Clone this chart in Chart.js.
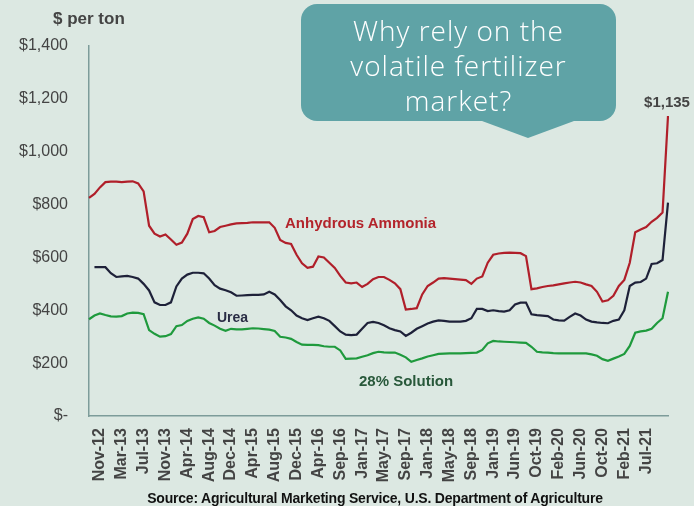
<!DOCTYPE html>
<html>
<head>
<meta charset="utf-8">
<script src="https://cdn.jsdelivr.net/npm/chart.js@4.4.0/dist/chart.umd.min.js"></script>
<style>
  body { margin: 0; background: #dce8e2; }
  #wrap { position: relative; width: 694px; height: 506px; background: #dce8e2; overflow: hidden; }
  canvas { position: absolute; left: 0; top: 0; }
  .txt { position: absolute; font-family: "Liberation Sans", Arial, sans-serif; font-weight: bold; white-space: nowrap; }
  #unit { left: 53px; top: 9px; font-size: 17px; color: #444; }
  #source { left: 0; width: 750px; text-align: center; top: 490px; font-size: 14px; color: #111; letter-spacing: -0.2px; }
  #lblNh3 { left: 285px; top: 214px; font-size: 15px; color: #b3242b; }
  #lblUrea { left: 217px; top: 309px; font-size: 14px; color: #2a2d45; }
  #lblSol { left: 359px; top: 372px; font-size: 15px; color: #28583a; }
  #bubble { position: absolute; left: 301px; top: 4px; width: 315px; height: 117px; background: #5fa3a6;
    border-radius: 16px; color: #fff; font-family: "Open Sans", sans-serif; font-weight: 300; font-size: 28px;
    letter-spacing: 1px; line-height: 35px; text-align: center; padding-top: 9px; box-sizing: border-box; }
  #bubble::after { content: ""; position: absolute; left: 181px; top: 117px; border-left: 46px solid transparent;
    border-right: 46px solid transparent; border-top: 17px solid #5fa3a6; }
</style>
</head>
<body>
<div id="wrap">
  <canvas id="myChart" width="694" height="506"></canvas>
  <div class="txt" id="unit">$ per ton</div>
  <div class="txt" id="lblNh3">Anhydrous Ammonia</div>
  <div class="txt" id="lblUrea">Urea</div>
  <div class="txt" id="lblSol">28% Solution</div>
  <div class="txt" id="source">Source:  Agricultural Marketing Service, U.S. Department of Agriculture</div>
  <div id="bubble">Why rely on the<br>volatile fertilizer<br>market?</div>
</div>
<script>
// tick labels, one every 4 points, starting at point 2
const tickLabels = ['Nov-12','Mar-13','Jul-13','Nov-13','Apr-14','Aug-14','Dec-14','Apr-15','Aug-15','Dec-15',
  'Apr-16','Sep-16','Jan-17','May-17','Sep-17','Jan-18','May-18','Sep-18','Jan-19','Jun-19',
  'Oct-19','Feb-20','Jun-20','Oct-20','Feb-21','Jul-21'];

const yTicks = [0, 200, 400, 600, 800, 1000, 1200, 1400];

const ammonia = [825,840,865,885,887,887,885,887,888,880,
  850,720,690,679,687,668,648,656,690,745,
  757,752,695,700,715,720,725,729,730,731,
  733,733,733,733,712,666,655,651,610,578,
  561,565,604,600,580,560,530,505,502,505,
  488,500,518,526,526,515,502,480,403,405,
  408,460,492,505,520,522,520,518,516,514,
  500,520,528,580,610,615,617,618,617,616,
  605,480,483,488,492,494,498,502,505,508,
  505,498,492,470,433,438,455,492,515,580,
  695,706,715,735,750,770,1135];

const urea = [null,563,563,563,540,526,528,530,526,520,
  500,475,430,420,420,430,490,520,535,542,
  542,540,520,495,482,476,468,455,456,457,
  458,458,460,470,460,439,415,400,380,370,
  363,370,376,370,360,340,320,308,306,308,
  330,352,356,352,343,332,325,320,303,315,
  330,340,350,357,362,360,357,357,357,360,
  370,405,405,397,400,397,395,400,422,429,
  429,385,382,380,378,365,362,361,375,388,
  380,365,357,354,352,351,360,365,400,492,
  505,507,520,575,578,590,807];

const solution28 = [366,380,388,382,377,376,378,388,391,390,
  385,325,311,300,302,310,340,344,360,368,
  373,368,352,342,330,322,330,328,328,330,
  332,331,329,327,322,300,297,292,280,270,
  269,269,268,264,262,262,248,216,217,218,
  224,230,238,243,241,240,240,232,222,205,
  212,218,225,230,235,236,237,237,237,238,
  239,240,250,275,284,282,281,280,279,278,
  277,262,243,241,240,238,237,237,237,237,
  237,237,233,228,215,209,217,225,235,265,
  315,320,323,330,352,370,470];

// one category per point; only every 4th carries a month name
const categories = ammonia.map((v, i) => (i >= 2 && (i - 2) % 4 === 0 && tickLabels[(i - 2) / 4]) ? tickLabels[(i - 2) / 4] : ' '.repeat(1 + i % 3));

const lastLabel = {
  id: 'lastLabel',
  afterDatasetsDraw(chart) {
    const ctx = chart.ctx;
    const i = ammonia.length - 1;
    const x = chart.scales.x.getPixelForValue(i);
    const y = chart.scales.y.getPixelForValue(ammonia[i]);
    ctx.save();
    ctx.font = 'bold 15px "Liberation Sans", Arial';
    ctx.fillStyle = '#444';
    ctx.textAlign = 'center';
    ctx.textBaseline = 'bottom';
    ctx.fillText('$' + ammonia[i].toLocaleString('en-US'), x - 1, y - 6);
    ctx.restore();
  }
};

Chart.defaults.font.family = '"Liberation Sans", Arial, sans-serif';

const ds = (data, color) => ({
  data: data,
  borderColor: color,
  borderWidth: 2.2,
  pointRadius: 0,
  tension: 0,
  fill: false
});

new Chart(document.getElementById('myChart'), {
  type: 'line',
  data: {
    labels: categories,
    datasets: [
      ds(ammonia, '#b01f2a'),
      ds(urea, '#1e2139'),
      ds(solution28, '#1f9a3d')
    ]
  },
  options: {
    responsive: false,
    animation: false,
    layout: { padding: { top: 46, right: 26, left: 0, bottom: 0 } },
    plugins: { legend: { display: false }, tooltip: { enabled: false } },
    scales: {
      x: {
        afterFit(s) { s.height = 90; s.paddingLeft = 0; s.paddingRight = 0; },
        grid: { display: false, drawTicks: false },
        border: { display: true, color: '#7d9c9a', width: 1.5 },
        ticks: {
          autoSkip: false, minRotation: 90, maxRotation: 90, padding: 12,
          color: '#444', font: { size: 16, weight: 'bold' }
        }
      },
      y: {
        min: 0, max: 1400,
        afterFit(s) { s.width = 89; },
        afterBuildTicks(s) { s.ticks = yTicks.map(v => ({ value: v })); },
        grid: { display: false, drawTicks: false },
        border: { display: true, color: '#7d9c9a', width: 1.5 },
        ticks: {
          padding: 21, color: '#444', font: { size: 16 },
          callback: v => v === 0 ? '$-' : '$' + v.toLocaleString('en-US')
        }
      }
    }
  },
  plugins: [lastLabel]
});
</script>
</body>
</html>
